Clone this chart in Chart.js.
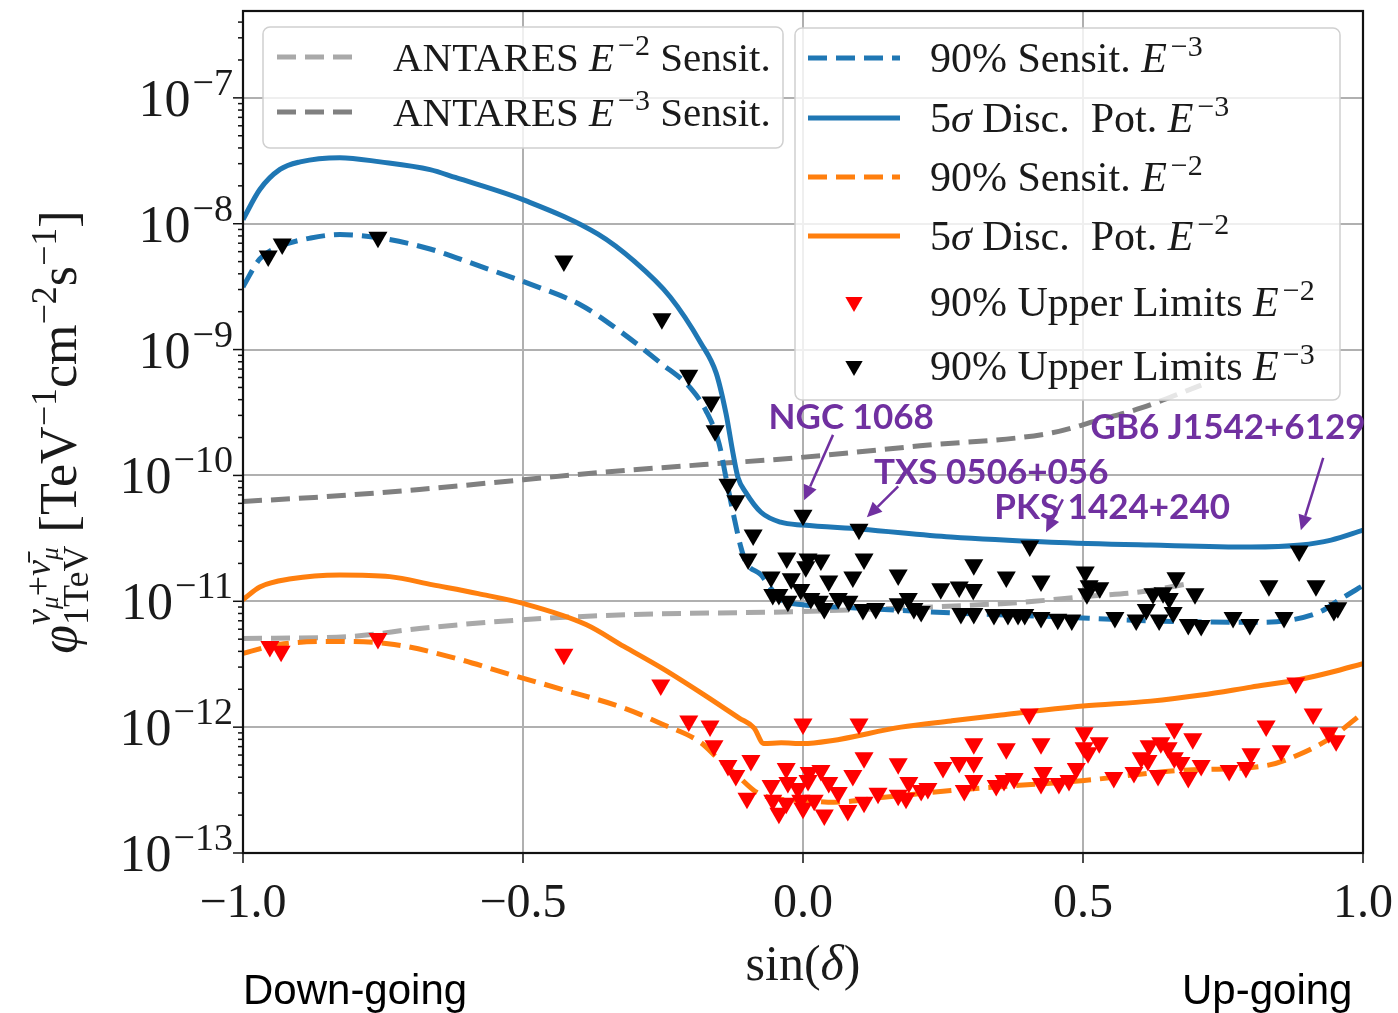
<!DOCTYPE html>
<html><head><meta charset="utf-8">
<script src="https://cdn.jsdelivr.net/npm/chart.js@4.4.1/dist/chart.umd.min.js"></script>
<style>html,body{margin:0;padding:0;background:#fff;}#wrap{width:1398px;height:1013px;position:relative;}</style>
</head><body><div id="wrap"><canvas id="c" width="1398" height="1013" style="width:1398px;height:1013px"></canvas></div>
<script>
// ---------------- data ----------------
const X_TICKS = [-1, -0.5, 0, 0.5, 1];
const X_TICK_LABELS = ['\u22121.0', '\u22120.5', '0.0', '0.5', '1.0'];
const Y_DECADES = [1e-13, 1e-12, 1e-11, 1e-10, 1e-9, 1e-8, 1e-7];
const Y_TICK_EXPONENTS = ['\u221213', '\u221212', '\u221211', '\u221210', '\u22129', '\u22128', '\u22127'];

// 5 sigma discovery potential E^-3
const discE3Sin = [-1.0,-0.97,-0.934,-0.898,-0.827,-0.755,-0.666,-0.621,-0.493,-0.366,-0.302,-0.2375,-0.182,-0.155,-0.1375,-0.125,-0.116,-0.102,-0.075,-0.04,0,0.104,0.264,0.443,0.621,0.8,0.889,0.943,1.0];
const discE3Flux = [1.08e-8,1.87e-8,2.7e-8,3.1e-8,3.35e-8,3.1e-8,2.69e-8,2.33e-8,1.51e-8,8.26e-9,5.06e-9,2.63e-9,1.12e-9,6.5e-10,3.1e-10,1.5e-10,9.6e-11,7.3e-11,5.1e-11,4.25e-11,4.03e-11,3.74e-11,3.24e-11,2.95e-11,2.8e-11,2.7e-11,2.8e-11,3.06e-11,3.67e-11];
// 90% sensitivity E^-3
const sensE3Sin = [-1.0,-0.97,-0.934,-0.879,-0.827,-0.755,-0.666,-0.577,-0.486,-0.396,-0.325,-0.254,-0.2,-0.173,-0.15,-0.1375,-0.125,-0.111,-0.102,-0.075,-0.057,-0.04,0,0.086,0.264,0.443,0.621,0.8,0.871,0.925,0.961,1.0];
const sensE3Flux = [3.15e-9,5.25e-9,6.6e-9,7.7e-9,8.2e-9,7.7e-9,6.3e-9,4.6e-9,3.3e-9,2.25e-9,1.38e-9,7.8e-10,4.9e-10,3.25e-10,1.8e-10,9.6e-11,5.1e-11,2.7e-11,2.05e-11,1.62e-11,1.26e-11,1.03e-11,9.4e-12,8.9e-12,8.1e-12,7.56e-12,7.0e-12,6.8e-12,7.1e-12,8.3e-12,1.05e-11,1.33e-11];
// 5 sigma discovery potential E^-2
const discE2Sin = [-1.0,-0.97,-0.914,-0.827,-0.738,-0.661,-0.58,-0.498,-0.3875,-0.32,-0.252,-0.182,-0.114,-0.0875,-0.07,-0.039,0,0.05,0.175,0.264,0.354,0.5,0.621,0.711,0.8,0.889,0.943,1.0];
const discE2Flux = [1.03e-11,1.3e-11,1.51e-11,1.62e-11,1.57e-11,1.35e-11,1.15e-11,9.57e-12,6.54e-12,4.38e-12,2.94e-12,1.87e-12,1.18e-12,9.87e-13,7.4e-13,7.5e-13,7.4e-13,7.8e-13,1.0e-12,1.12e-12,1.25e-12,1.47e-12,1.61e-12,1.8e-12,2.08e-12,2.4e-12,2.73e-12,3.2e-12];
// 90% sensitivity E^-2
const sensE2Sin = [-1.0,-0.936,-0.832,-0.730,-0.620,-0.525,-0.421,-0.320,-0.252,-0.182,-0.152,-0.121,-0.080,-0.039,0,0.055,0.145,0.264,0.502,0.671,0.827,0.889,0.943,1.0];
const sensE2Flux = [3.86e-12,4.54e-12,4.8e-12,4.54e-12,3.52e-12,2.64e-12,1.94e-12,1.42e-12,1.06e-12,7.52e-13,5.62e-13,4.28e-13,2.98e-13,2.67e-13,2.62e-13,2.53e-13,2.77e-13,3.14e-13,3.77e-13,4.52e-13,4.95e-13,6.15e-13,8.24e-13,1.3e-12];
// ANTARES sensitivities
const antE2Sin = [-1.0,-0.81,-0.685,-0.495,-0.305,-0.0125,0.354,0.413,0.502,0.604,0.689];
const antE2Flux = [5.07e-12,5.25e-12,6.08e-12,7.16e-12,7.84e-12,8.28e-12,9.57e-12,1.0e-11,1.09e-11,1.19e-11,1.38e-11];
const antE3Sin = [-1.0,-0.873,-0.685,-0.495,-0.368,-0.177,-0.0125,0.209,0.445,0.523,0.604,0.711];
const antE3Flux = [6.22e-11,6.69e-11,7.74e-11,9.29e-11,1.05e-10,1.22e-10,1.38e-10,1.72e-10,2.18e-10,2.71e-10,3.44e-10,5.22e-10];
// 90% upper limits E^-3 (black)
const ul3Sin = [-0.955,-0.930,-0.759,-0.427,-0.252,-0.204,-0.164,-0.157,-0.134,-0.120,-0.089,-0.098,0.000,0.100,-0.029,0.009,0.032,0.109,-0.057,-0.021,0.005,0.046,0.089,0.170,0.305,0.363,0.246,0.279,0.304,-0.054,-0.043,-0.027,-0.004,0.014,0.029,0.038,0.063,0.082,0.107,0.130,0.170,0.188,0.198,0.211,0.282,0.305,0.341,0.366,0.384,0.405,0.886,0.425,0.504,0.511,0.530,0.507,0.666,0.625,0.643,0.654,0.700,0.832,0.916,0.396,0.425,0.455,0.480,0.557,0.595,0.613,0.636,0.661,0.688,0.711,0.768,0.798,0.859,0.948,0.955];
const ul3Flux = [5.53e-9,6.9e-9,7.8e-9,5.06e-9,1.76e-9,6.25e-10,3.83e-10,2.26e-10,8.5e-11,6.3e-11,3.36e-11,2.17e-11,4.83e-11,3.74e-11,2.21e-11,2.17e-11,2.13e-11,2.17e-11,1.56e-11,1.51e-11,1.88e-11,1.45e-11,1.56e-11,1.62e-11,1.95e-11,1.56e-11,1.26e-11,1.30e-11,1.24e-11,1.13e-11,1.13e-11,1.0e-11,1.24e-11,1.05e-11,1.0e-11,8.75e-12,1.05e-11,1.0e-11,8.6e-12,8.75e-12,9.57e-12,1.05e-11,8.75e-12,8.28e-12,7.98e-12,7.98e-12,7.84e-12,7.84e-12,7.84e-12,2.75e-11,2.51e-11,1.45e-11,1.71e-11,1.33e-11,1.28e-11,1.15e-11,1.54e-11,1.15e-11,1.17e-11,1.05e-11,1.15e-11,1.33e-11,1.33e-11,7.84e-12,7.43e-12,7.2e-12,7.1e-12,7.43e-12,7.1e-12,8.6e-12,7.1e-12,8.13e-12,6.54e-12,6.43e-12,7.43e-12,6.54e-12,7.43e-12,8.43e-12,8.9e-12];
// 90% upper limits E^-2 (red)
const ul2Sin = [-0.952,-0.932,-0.759,-0.427,-0.254,-0.204,-0.166,-0.159,-0.134,-0.120,-0.093,-0.100,-0.057,-0.054,-0.043,-0.030,-0.027,-0.030,-0.009,0.000,-0.004,0.000,0.011,0.009,0.020,0.032,0.038,0.046,0.063,0.080,0.089,0.100,0.109,0.109,0.134,0.170,0.170,0.184,0.189,0.211,0.223,0.250,0.279,0.288,0.305,0.305,0.305,0.345,0.359,0.363,0.377,0.404,0.880,0.425,0.502,0.502,0.529,0.509,0.663,0.696,0.618,0.639,0.652,0.604,0.616,0.663,0.675,0.711,0.827,0.911,0.939,0.952,0.854,0.800,0.791,0.761,0.688,0.634,0.591,0.555,0.429,0.425,0.457,0.475,0.488];
const ul2Flux = [4.38e-12,4.0e-12,5.07e-12,3.79e-12,2.16e-12,1.12e-12,1.02e-12,7.12e-13,4.95e-13,4.13e-13,5.42e-13,2.72e-13,3.44e-13,2.62e-13,2.07e-13,4.69e-13,3.63e-13,2.48e-13,3.26e-13,1.06e-12,2.62e-13,2.27e-13,4.36e-13,3.77e-13,2.62e-13,4.52e-13,2.0e-13,3.63e-13,3.03e-13,2.18e-13,4.13e-13,1.06e-12,5.72e-13,2.53e-13,2.98e-13,5.13e-13,2.87e-13,2.72e-13,3.63e-13,3.14e-13,3.26e-13,4.77e-13,5.23e-13,3.14e-13,7.38e-13,5.23e-13,3.77e-13,3.44e-13,3.77e-13,6.74e-13,3.91e-13,1.27e-12,2.24e-12,7.38e-13,9.02e-13,6.87e-13,7.52e-13,6.27e-13,9.7e-13,8.09e-13,7.12e-13,7.52e-13,6.87e-13,5.72e-13,5.42e-13,5.72e-13,5.23e-13,4.95e-13,1.02e-12,1.27e-12,9.02e-13,7.8e-13,6.5e-13,6.15e-13,4.77e-13,4.52e-13,3.98e-13,4.13e-13,4.36e-13,3.98e-13,4.36e-13,3.57e-13,3.57e-13,3.77e-13,4.69e-13];

// source annotations (text anchor and arrow, in data coordinates)
const SOURCE_NAMES = ['NGC 1068', 'TXS 0506+056', 'PKS 1424+240', 'GB6 J1542+6129'];
const SOURCE_LABEL_SIN = [0.086, 0.336, 0.552, 0.759];
const SOURCE_LABEL_FLUX = [2.86e-10, 1.05e-10, 5.58e-11, 2.39e-10];
const ARROW_FROM_SIN = [0.0536, 0.170, 0.464, 0.929];
const ARROW_FROM_FLUX = [2.10e-10, 8.17e-11, 6.45e-11, 1.38e-10];
const ARROW_TO_SIN = [0.002, 0.114, 0.434, 0.889];
const ARROW_TO_FLUX = [6.34e-11, 4.65e-11, 3.54e-11, 3.67e-11];

// ---------------- styling ----------------
const BLUE = '#1f77b4', ORANGE = '#ff7f0e', LGRAY = '#a9a9a9', DGRAY = '#808080', RED = '#ff0000', BLACK = '#000000', PURPLE = '#7030a0';
const SERIF = '"Liberation Serif", "DejaVu Serif", serif';
const DASH = [19, 9];
const pts = (xs, ys) => xs.map((x, i) => ({x: x, y: ys[i]}));

function lineDs(label, xs, ys, color, dashed) {
  return {label, data: pts(xs, ys), showLine: true, borderColor: color, backgroundColor: color,
    borderWidth: 5, borderDash: dashed ? DASH : [], pointRadius: 0, pointHoverRadius: 0,
    cubicInterpolationMode: 'monotone', fill: false, borderCapStyle: 'butt'};
}
function markDs(label, xs, ys, color) {
  return {label, data: pts(xs, ys), showLine: false, pointStyle: 'triangle', rotation: 180,
    pointRadius: 11, pointHoverRadius: 11, backgroundColor: color, borderColor: color, borderWidth: 0};
}

// rich text (super/subscripts)
function font(s) { return (s.it ? 'italic ' : '') + (s.b ? 'bold ' : '') + s.s + 'px ' + (s.f || SERIF); }
function drawRich(ctx, segs, x, y, align) {
  let cx = 0, mark = 0, maxX = 0; const pos = [];
  for (const s of segs) {
    ctx.font = font(s);
    if (s.mark) mark = cx;
    if (s.back) cx = mark;
    if (s.after) cx = maxX;
    cx += (s.gap || 0);
    pos.push(cx);
    cx += ctx.measureText(s.t).width;
    maxX = Math.max(maxX, cx);
  }
  const x0 = align === 'right' ? x - maxX : align === 'center' ? x - maxX / 2 : x;
  ctx.textAlign = 'left'; ctx.textBaseline = 'alphabetic';
  segs.forEach((s, i) => { ctx.font = font(s); ctx.fillText(s.t, x0 + pos[i], y + (s.dy || 0)); });
  return maxX;
}
const LFS = 42;
function eSegs(pre, exp, post, fs) {
  fs = fs || LFS;
  const a = pre.map(p => Object.assign({s: fs}, p));
  a.push({t: 'E', s: fs, it: true});
  a.push({t: exp, s: Math.round(fs * 0.72), dy: -16, gap: 4});
  if (post) a.push({t: post, s: fs});
  return a;
}
const LEGEND1 = [
  {kind: 'line', color: LGRAY, dash: true, text: eSegs([{t: 'ANTARES '}], '\u22122', ' Sensit.', 41)},
  {kind: 'line', color: DGRAY, dash: true, text: eSegs([{t: 'ANTARES '}], '\u22123', ' Sensit.', 41)}
];
const LEGEND2 = [
  {kind: 'line', color: BLUE, dash: true, text: eSegs([{t: '90% Sensit. '}], '\u22123')},
  {kind: 'line', color: BLUE, dash: false, text: eSegs([{t: '5'}, {t: '\u03c3', it: true}, {t: ' Disc.  Pot. '}], '\u22123')},
  {kind: 'line', color: ORANGE, dash: true, text: eSegs([{t: '90% Sensit. '}], '\u22122')},
  {kind: 'line', color: ORANGE, dash: false, text: eSegs([{t: '5'}, {t: '\u03c3', it: true}, {t: ' Disc.  Pot. '}], '\u22122')},
  {kind: 'mark', color: RED, text: eSegs([{t: '90% Upper Limits '}], '\u22122')},
  {kind: 'mark', color: BLACK, text: eSegs([{t: '90% Upper Limits '}], '\u22123')}
];

function tri(ctx, x, y, r, color) {
  ctx.fillStyle = color;
  ctx.beginPath();
  ctx.moveTo(x, y + r);
  ctx.lineTo(x - r * 0.866, y - r * 0.5);
  ctx.lineTo(x + r * 0.866, y - r * 0.5);
  ctx.closePath(); ctx.fill();
}
function drawLegend(ctx, box, items, lx0, lx1, tx, ys) {
  ctx.save();
  ctx.fillStyle = 'rgba(255,255,255,0.8)';
  ctx.strokeStyle = '#d0d0d0'; ctx.lineWidth = 1.5;
  ctx.beginPath(); ctx.roundRect(box[0], box[1], box[2] - box[0], box[3] - box[1], 7); ctx.fill(); ctx.stroke();
  items.forEach((it, i) => {
    const y = ys[i];
    if (it.kind === 'line') {
      ctx.strokeStyle = it.color; ctx.lineWidth = 5; ctx.setLineDash(it.dash ? DASH : []); ctx.lineCap = 'butt';
      ctx.beginPath(); ctx.moveTo(lx0, y); ctx.lineTo(lx1, y); ctx.stroke(); ctx.setLineDash([]);
    } else {
      tri(ctx, (lx0 + lx1) / 2, y, 10, it.color);
    }
    ctx.fillStyle = '#1a1a1a';
    drawRich(ctx, it.text, tx, y + 14, 'left');
  });
  ctx.restore();
}

const decor = {
  id: 'decor',
  afterDraw(chart) {
    const ctx = chart.ctx, xs = chart.scales.x, ys = chart.scales.y, ca = chart.chartArea;
    ctx.save();
    // ticks
    ctx.strokeStyle = '#111'; ctx.lineWidth = 1.5;
    const seg = (a, b, c, d) => { ctx.beginPath(); ctx.moveTo(a, b); ctx.lineTo(c, d); ctx.stroke(); };
    Y_DECADES.forEach(v => { const py = ys.getPixelForValue(v); seg(ca.left - 10, py, ca.left, py); });
    for (let e = -13; e <= -7; e++) for (let m = 2; m <= 9; m++) {
      const v = m * Math.pow(10, e);
      if (v < ys.max) { const py = ys.getPixelForValue(v); seg(ca.left - 5, py, ca.left, py); }
    }
    X_TICKS.forEach(v => { const px = xs.getPixelForValue(v); seg(px, ca.bottom, px, ca.bottom + 10); });
    // frame
    ctx.strokeStyle = '#111'; ctx.lineWidth = 2.2;
    ctx.strokeRect(ca.left, ca.top, ca.right - ca.left, ca.bottom - ca.top);
    // tick labels
    ctx.fillStyle = '#1a1a1a';
    Y_DECADES.forEach((v, i) => {
      const py = ys.getPixelForValue(v);
      drawRich(ctx, [{t: '10', s: 52}, {t: Y_TICK_EXPONENTS[i], s: 38, dy: -21, gap: 2}], ca.left - 10, py + 18, 'right');
    });
    ctx.font = '48px ' + SERIF; ctx.textAlign = 'center'; ctx.textBaseline = 'alphabetic';
    X_TICKS.forEach((v, i) => { ctx.fillText(X_TICK_LABELS[i], xs.getPixelForValue(v), ca.bottom + 64); });
    // axis titles
    drawRich(ctx, [{t: 'sin(', s: 50}, {t: '\u03b4', s: 50, it: true}, {t: ')', s: 50}], (ca.left + ca.right) / 2, 980, 'center');
    ctx.save();
    ctx.translate(76, (ca.top + ca.bottom) / 2);
    ctx.rotate(-Math.PI / 2);
    drawRich(ctx, [
      {t: '\u03c6', s: 52, it: true},
      {t: '1TeV', s: 36, dy: 12, mark: true},
      {t: '\u03bd', s: 36, it: true, dy: -26, back: true},
      {t: '\u03bc', s: 25, it: true, dy: -18},
      {t: '+', s: 36, dy: -26},
      {t: '\u03bd\u0304', s: 36, it: true, dy: -26},
      {t: '\u03bc', s: 25, it: true, dy: -18},
      {t: ' [TeV', s: 52, after: true},
      {t: '\u22121', s: 36, dy: -20},
      {t: 'cm', s: 52},
      {t: '\u22122', s: 36, dy: -20},
      {t: 's', s: 52},
      {t: '\u22121', s: 36, dy: -20},
      {t: ']', s: 52}
    ], 0, 0, 'center');
    ctx.restore();
    // bottom notes
    ctx.fillStyle = '#000'; ctx.font = '42px "Liberation Sans", Arial, sans-serif'; ctx.textAlign = 'left';
    ctx.fillText('Down-going', ca.left, 1004);
    ctx.fillText('Up-going', 1182, 1004);
    // legends
    drawLegend(ctx, [263, 27, 783, 148], LEGEND1, 277, 360, 393, [57, 112]);
    drawLegend(ctx, [795, 28, 1340, 400], LEGEND2, 808, 900, 930, [58, 118, 177, 236, 302, 366]);
    // annotations
    ctx.fillStyle = PURPLE; ctx.strokeStyle = PURPLE;
    ctx.font = 'bold 35px Lato, "Open Sans", sans-serif'; ctx.textAlign = 'center'; ctx.textBaseline = 'middle';
    SOURCE_NAMES.forEach((name, i) => {
      ctx.fillText(name, xs.getPixelForValue(SOURCE_LABEL_SIN[i]), ys.getPixelForValue(SOURCE_LABEL_FLUX[i]));
      const x0 = xs.getPixelForValue(ARROW_FROM_SIN[i]), y0 = ys.getPixelForValue(ARROW_FROM_FLUX[i]);
      const x1 = xs.getPixelForValue(ARROW_TO_SIN[i]), y1 = ys.getPixelForValue(ARROW_TO_FLUX[i]);
      const ang = Math.atan2(y1 - y0, x1 - x0), hl = 15, hw = 7;
      const bx = x1 - hl * Math.cos(ang), by = y1 - hl * Math.sin(ang);
      ctx.lineWidth = 2.5; seg(x0, y0, bx, by);
      ctx.beginPath(); ctx.moveTo(x1, y1);
      ctx.lineTo(bx + hw * Math.sin(ang), by - hw * Math.cos(ang));
      ctx.lineTo(bx - hw * Math.sin(ang), by + hw * Math.cos(ang));
      ctx.closePath(); ctx.fill();
    });
    ctx.restore();
  }
};

const datasets = [
  markDs('90% Upper Limits E-3', ul3Sin, ul3Flux, BLACK),
  markDs('90% Upper Limits E-2', ul2Sin, ul2Flux, RED),
  lineDs('90% Sensit. E-3', sensE3Sin, sensE3Flux, BLUE, true),
  lineDs('5sigma Disc. Pot. E-3', discE3Sin, discE3Flux, BLUE, false),
  lineDs('90% Sensit. E-2', sensE2Sin, sensE2Flux, ORANGE, true),
  lineDs('5sigma Disc. Pot. E-2', discE2Sin, discE2Flux, ORANGE, false),
  lineDs('ANTARES E-2 Sensit.', antE2Sin, antE2Flux, LGRAY, true),
  lineDs('ANTARES E-3 Sensit.', antE3Sin, antE3Flux, DGRAY, true)
];

new Chart(document.getElementById('c'), {
  type: 'scatter',
  data: {datasets},
  options: {
    responsive: false, animation: false, devicePixelRatio: 1,
    layout: {padding: {left: 0, right: 35, top: 5, bottom: 160}},
    plugins: {legend: {display: false}, tooltip: {enabled: false}},
    scales: {
      x: {type: 'linear', min: -1, max: 1,
        ticks: {display: false, stepSize: 0.5},
        afterBuildTicks: s => { s.ticks = X_TICKS.map(v => ({value: v})); },
        grid: {color: '#b0b0b0', lineWidth: 2, drawTicks: false}, border: {display: false},
        afterFit: s => { s.height = 0; }},
      y: {type: 'logarithmic', min: 1e-13, max: 4.9e-7,
        ticks: {display: false},
        afterBuildTicks: s => { s.ticks = Y_DECADES.map(v => ({value: v, major: true})); },
        grid: {color: '#b0b0b0', lineWidth: 2, drawTicks: false}, border: {display: false},
        afterFit: s => { s.width = 243; }}
    }
  },
  plugins: [decor]
});
</script></body></html>
